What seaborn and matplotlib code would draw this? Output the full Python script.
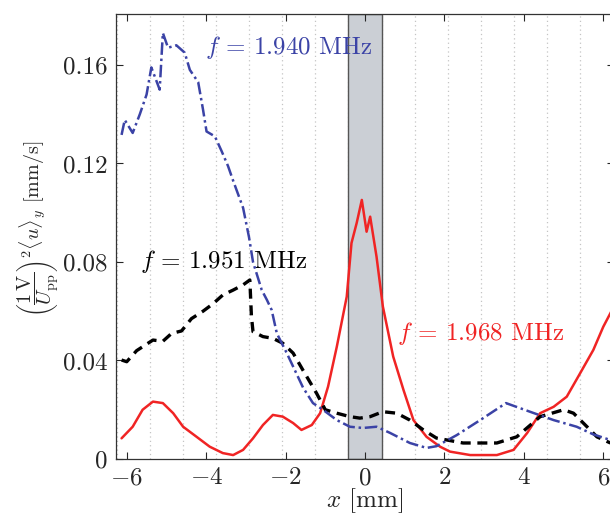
import numpy as np
import pandas as pd
import matplotlib
matplotlib.use("Agg")
import matplotlib.pyplot as plt
import seaborn as sns

# Streaming velocity profiles across the channel for three drive frequencies
x_1940 = [-6.13, -6.05, -5.85, -5.67, -5.5, -5.38, -5.17, -5.09, -4.96, -4.75, -4.54, -4.41,
          -4.2, -4.08, -3.99, -3.78, -3.61, -3.45, -3.32, -3.07, -2.92, -2.82, -2.6, -2.47,
          -2.35, -2.22, -1.97, -1.56, -1.31, -1.06, -0.71, -0.38, -0.05, 0.29, 0.63, 1.13,
          1.55, 1.8, 2.31, 2.9, 3.55, 4.24, 4.75, 5.33, 5.75, 6.18]
u_1940 = [0.1316, 0.1377, 0.1324, 0.140, 0.148, 0.159, 0.150, 0.173, 0.167, 0.168, 0.165, 0.158,
          0.153, 0.142, 0.133, 0.131, 0.125, 0.119, 0.113, 0.102, 0.090, 0.080, 0.0686, 0.0646,
          0.0605, 0.051, 0.043, 0.029, 0.0227, 0.020, 0.0158, 0.0131, 0.0126, 0.0131, 0.0106, 0.0065,
          0.0045, 0.0052, 0.0097, 0.0158, 0.0227, 0.0187, 0.0158, 0.0131, 0.0100, 0.0077]

x_1951 = [-6.13, -6.0, -5.75, -5.34, -5.09, -4.87, -4.62, -4.37, -4.08, -3.83, -3.58, -3.32,
          -3.07, -2.9, -2.86, -2.82, -2.57, -2.32, -2.07, -1.81, -1.56, -1.22, -1.0, -0.71,
          -0.38, -0.13, 0.13, 0.45, 0.8, 1.13, 1.47, 1.8, 2.47, 3.32, 3.82, 4.41, 5.0, 5.25,
          5.59, 5.84, 6.18]
u_1951 = [0.0402, 0.0395, 0.044, 0.0483, 0.0478, 0.051, 0.052, 0.057, 0.060, 0.063, 0.0666, 0.0686,
          0.0707, 0.0727, 0.058, 0.0517, 0.0497, 0.049, 0.047, 0.043, 0.036, 0.0267, 0.020, 0.0186,
          0.0172, 0.0166, 0.0172, 0.0192, 0.0186, 0.0158, 0.0118, 0.0085, 0.0065, 0.0065, 0.009,
          0.0172, 0.020, 0.0186, 0.0131, 0.009, 0.0065]

x_1968 = [-6.13, -5.85, -5.6, -5.34, -5.09, -4.83, -4.58, -4.24, -3.91, -3.58, -3.32, -3.07,
          -2.82, -2.57, -2.32, -2.07, -1.81, -1.6, -1.34, -1.13, -0.93, -0.71, -0.46, -0.34,
          -0.21, -0.08, 0.04, 0.13, 0.29, 0.45, 0.71, 0.97, 1.22, 1.55, 1.89, 2.14, 2.65, 3.32,
          3.74, 4.08, 4.41, 4.75, 5.08, 5.42, 5.75, 6.0, 6.27]
u_1968 = [0.0084, 0.0131, 0.020, 0.0233, 0.0227, 0.0186, 0.0131, 0.009, 0.005, 0.0024, 0.0016, 0.0037,
          0.0084, 0.0138, 0.0179, 0.0172, 0.0146, 0.0118, 0.0138, 0.0186, 0.0294, 0.0456, 0.0659, 0.0877,
          0.0958, 0.1052, 0.0923, 0.0984, 0.0822, 0.0619, 0.0416, 0.028, 0.0158, 0.009, 0.005, 0.003,
          0.0016, 0.0016, 0.0037, 0.0105, 0.0186, 0.0212, 0.0253, 0.0349, 0.0443, 0.0537, 0.062]

x_ticks = [-6, -4, -2, 0, 2, 4, 6]
y_ticks = [0, 0.04, 0.08, 0.12, 0.16]
y_tick_labels = ["0", "0.04", "0.08", "0.12", "0.16"]
labels = [r"$f$ = 1.940 MHz", r"$f$ = 1.951 MHz", r"$f$ = 1.968 MHz"]

band_half_width = 5 / 12      # half width of the shaded central region [mm]

sns.set_style("ticks")
plt.rcParams.update({
    "font.family": ["cmr10", "DejaVu Serif"],
    "mathtext.fontset": "cm",
    "axes.formatter.use_mathtext": True,
    "axes.unicode_minus": True,
    "font.size": 18,
})

blue = "#3b43a6"
red = "#f02424"
FS = 18

fig = plt.figure(figsize=(6.1, 5.15), dpi=100)
ax = fig.add_axes([116 / 610, 56 / 515, 498 / 610, 445 / 515])

# dotted guide lines and shaded centre region
k = np.arange(-8, 8)
for xv in (2 * k + 1) * band_half_width:
    ax.axvline(xv, color="#c4c4c4", lw=0.9, ls=(0, (1, 2.5)), zorder=0)
ax.axvspan(-band_half_width, band_half_width, facecolor="#cbcfd5", edgecolor="#555555",
           lw=1.0, zorder=0.5)

df1 = pd.DataFrame({"x": x_1940, "u": u_1940})
df2 = pd.DataFrame({"x": x_1951, "u": u_1951})
df3 = pd.DataFrame({"x": x_1968, "u": u_1968})

sns.lineplot(data=df3, x="x", y="u", ax=ax, color=red, lw=1.8, estimator=None, sort=False, zorder=3)
sns.lineplot(data=df2, x="x", y="u", ax=ax, color="black", lw=2.4, ls=(0, (3, 2)),
             estimator=None, sort=False, zorder=4)
sns.lineplot(data=df1, x="x", y="u", ax=ax, color=blue, lw=1.8, ls=(0, (5, 1.5, 1, 1.5)),
             estimator=None, sort=False, zorder=5)

ax.text(-4.03, 0.167, labels[0], color=blue, fontsize=FS, va="center", ha="left")
ax.text(-5.67, 0.080, labels[1], color="black", fontsize=FS, va="center", ha="left")
ax.text(0.80, 0.051, labels[2], color=red, fontsize=FS, va="center", ha="left")

ax.set_xlim(-6.27, 6.27)
ax.set_ylim(0, 0.1807)
ax.set_xticks(x_ticks)
ax.set_xticklabels([rf"${v}$" for v in x_ticks])
ax.set_yticks(y_ticks)
ax.set_yticklabels(y_tick_labels)
ax.tick_params(direction="in", top=True, right=True, length=5, width=0.8, labelsize=FS, pad=6)
for s in ax.spines.values():
    s.set_linewidth(0.9)
    s.set_color("#333333")

ax.set_xlabel(r"$x$ [mm]", fontsize=FS, labelpad=-2)
ax.set_ylabel(r"$\left(\dfrac{1\,\mathrm{V}}{U_{\mathrm{pp}}}\right)^2\langle u\rangle_y$ [mm/s]",
              fontsize=14.5)
ax.yaxis.label.set_va("center")
ax.yaxis.set_label_coords((38 - 116) / 498, 0.517)

fig.savefig("out.png", dpi=100)
